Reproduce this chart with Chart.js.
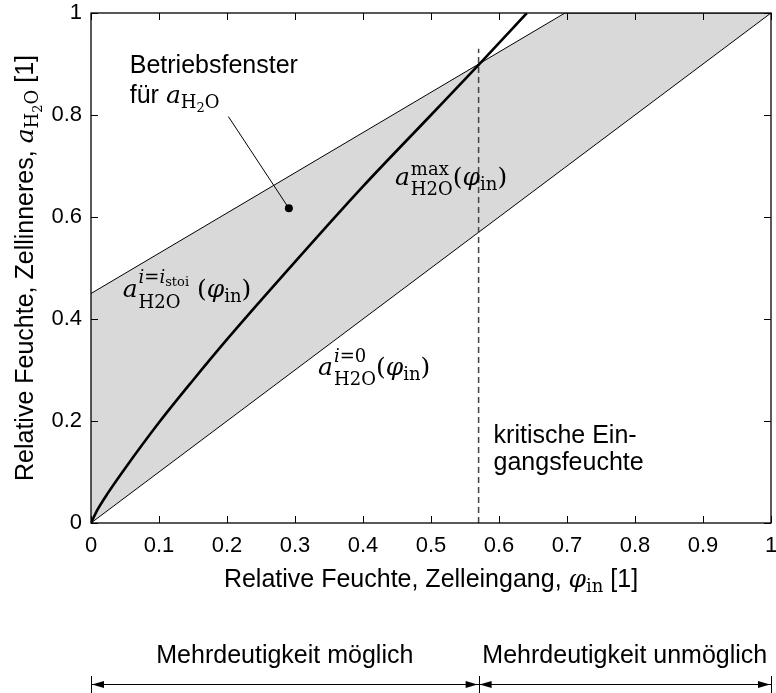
<!DOCTYPE html>
<html>
<head>
<meta charset="utf-8">
<script src="https://cdn.jsdelivr.net/npm/chart.js@4.4.0/dist/chart.umd.min.js"></script>
<style>
    html, body { margin: 0; padding: 0; background: #fff; }
    #wrap { width: 776px; height: 693px; }
</style>
</head>
<body>
<div id="wrap"><canvas id="chart" width="776" height="693"></canvas></div>
<script>
// Achsen
const xTicks = [0, 0.1, 0.2, 0.3, 0.4, 0.5, 0.6, 0.7, 0.8, 0.9, 1];
const xTickLabels = ['0', '0.1', '0.2', '0.3', '0.4', '0.5', '0.6', '0.7', '0.8', '0.9', '1'];
const yTicks = [0, 0.2, 0.4, 0.6, 0.8, 1];
const yTickLabels = ['0', '0.2', '0.4', '0.6', '0.8', '1'];

// a_H2O fuer i = 0 (Diagonale)
const phiZero = [0, 0.697, 1];
const aZero = [0, 0.697, 1];

// a_H2O fuer i = i_stoi, oben durch 1 begrenzt
const phiStoi = [0, 0.697, 1];
const aStoi = [0.45, 1, 1];

// a_H2O^max
const phiMax = [0, 0.01, 0.025, 0.05, 0.1, 0.15, 0.2, 0.3, 0.4, 0.5, 0.569, 0.641];
const aMax = [0, 0.027, 0.059, 0.107, 0.197, 0.28, 0.36, 0.512, 0.66, 0.8, 0.897, 1];

// kritische Eingangsfeuchte
const phiCrit = 0.57;
const critTop = 0.93;

// Punkt im Betriebsfenster
const dotPhi = 0.291;
const dotA = 0.617;

const SANS = '"Liberation Sans", Arial, sans-serif';
const SERIF = '"DejaVu Serif", "Liberation Serif", serif';
const sans = s => s + 'px ' + SANS;
const ser = s => s + 'px ' + SERIF;
const serIt = s => 'italic ' + s + 'px ' + SERIF;

const pts = (xs, ys) => xs.map((v, i) => ({ x: v, y: ys[i] }));

// Text mit Hoch-/Tiefstellung; gibt die End-x-Position zurueck
function run(ctx, x, y, parts, dry) {
    for (const p of parts) {
        if (p.sup || p.sub) {
            const x1 = run(ctx, x, y, p.sup || [], dry);
            const x2 = run(ctx, x, y, p.sub || [], dry);
            x = Math.max(x1, x2);
            continue;
        }
        ctx.font = p.f;
        if (!dry) ctx.fillText(p.t, x, y + (p.dy || 0));
        x += ctx.measureText(p.t).width + (p.sp || 0);
    }
    return x;
}

function runCentered(ctx, cx, y, parts) {
    const w = run(ctx, 0, 0, parts, true);
    run(ctx, cx - w / 2, y, parts, false);
}

const M = 25, S = 18, SS = 13, T = 25;

const phiIn = [
    { t: 'φ', f: serIt(M) },
    { t: 'in', f: ser(S), dy: 5 }
];

const lblZero = [
    { t: 'a', f: serIt(M), sp: 1 },
    { sup: [{ t: 'i', f: serIt(S), dy: -13 }, { t: '=', f: ser(S), dy: -13 }, { t: '0', f: ser(S), dy: -13 }],
      sub: [{ t: 'H2O', f: ser(S), dy: 10 }] },
    { t: '(', f: ser(M) }, ...phiIn, { t: ')', f: ser(M) }
];

const lblMax = [
    { t: 'a', f: serIt(M), sp: 1 },
    { sup: [{ t: 'max', f: ser(S), dy: -10 }],
      sub: [{ t: 'H2O', f: ser(S), dy: 10 }] },
    { t: '(', f: ser(M) }, ...phiIn, { t: ')', f: ser(M) }
];

const lblStoi = [
    { t: 'a', f: serIt(M), sp: 1 },
    { sup: [{ t: 'i', f: serIt(S), dy: -14 }, { t: '=', f: ser(S), dy: -14 }, { t: 'i', f: serIt(S), dy: -14 },
            { t: 'stoi', f: ser(SS), dy: -11 }],
      sub: [{ t: 'H2O', f: ser(S), dy: 11 }] },
    { t: ' (', f: ser(M) }, ...phiIn, { t: ')', f: ser(M) }
];

const aH2O = [
    { t: 'a', f: serIt(M) },
    { t: 'H', f: ser(S), dy: 5 },
    { t: '2', f: ser(SS), dy: 9 },
    { t: 'O', f: ser(S), dy: 5 }
];

const xTitle = [{ t: 'Relative Feuchte, Zelleingang, ', f: sans(T) }, ...phiIn, { t: ' [1]', f: sans(T) }];
const yTitle = [{ t: 'Relative Feuchte, Zellinneres, ', f: sans(T) }, ...aH2O, { t: ' [1]', f: sans(T) }];

function arrowHead(ctx, x, y, dir) {
    ctx.beginPath();
    ctx.moveTo(x, y);
    ctx.lineTo(x - dir * 12, y - 3.5);
    ctx.lineTo(x - dir * 12, y + 3.5);
    ctx.closePath();
    ctx.fill();
}

const decor = {
    id: 'decor',
    afterDatasetsDraw(chart) {
        const { ctx, chartArea: a, scales: { x, y } } = chart;
        ctx.save();
        ctx.fillStyle = '#000';
        ctx.strokeStyle = '#000';

        // Rahmen und Ticks nach innen
        ctx.lineWidth = 1.3;
        ctx.strokeRect(a.left, a.top, a.right - a.left, a.bottom - a.top);
        ctx.lineWidth = 1;
        ctx.beginPath();
        xTicks.forEach(v => {
            const px = Math.round(x.getPixelForValue(v)) + 0.5;
            ctx.moveTo(px, a.bottom); ctx.lineTo(px, a.bottom - 7);
            ctx.moveTo(px, a.top); ctx.lineTo(px, a.top + 7);
        });
        yTicks.forEach(v => {
            const py = Math.round(y.getPixelForValue(v)) + 0.5;
            ctx.moveTo(a.left, py); ctx.lineTo(a.left + 7, py);
            ctx.moveTo(a.right, py); ctx.lineTo(a.right - 7, py);
        });
        ctx.stroke();

        // Hinweislinie zum Betriebsfenster
        ctx.beginPath();
        ctx.moveTo(x.getPixelForValue(0.202), y.getPixelForValue(0.797));
        ctx.lineTo(x.getPixelForValue(dotPhi), y.getPixelForValue(dotA));
        ctx.stroke();

        ctx.textBaseline = 'alphabetic';
        ctx.textAlign = 'left';

        // Beschriftungen im Diagramm
        run(ctx, x.getPixelForValue(0.057), y.getPixelForValue(0.882), [{ t: 'Betriebsfenster', f: sans(T) }]);
        run(ctx, x.getPixelForValue(0.057), y.getPixelForValue(0.8235), [{ t: 'für ', f: sans(T) }, ...aH2O]);
        run(ctx, x.getPixelForValue(0.0466), y.getPixelForValue(0.444), lblStoi);
        run(ctx, x.getPixelForValue(0.447), y.getPixelForValue(0.663), lblMax);
        run(ctx, x.getPixelForValue(0.334), y.getPixelForValue(0.29), lblZero);
        run(ctx, x.getPixelForValue(0.592), y.getPixelForValue(0.156), [{ t: 'kritische Ein-', f: sans(T) }]);
        run(ctx, x.getPixelForValue(0.592), y.getPixelForValue(0.103), [{ t: 'gangsfeuchte', f: sans(T) }]);

        // Achsentitel
        const cx = (a.left + a.right) / 2;
        const cy = (a.top + a.bottom) / 2;
        runCentered(ctx, cx, 587, xTitle);
        ctx.save();
        ctx.translate(33, cy);
        ctx.rotate(-Math.PI / 2);
        runCentered(ctx, 0, 0, yTitle);
        ctx.restore();

        // Bereiche unterhalb der Achse
        const x0 = x.getPixelForValue(0);
        const xc = x.getPixelForValue(phiCrit);
        const x1 = x.getPixelForValue(1);
        const ay = 684.5;
        runCentered(ctx, (x0 + xc) / 2, 663, [{ t: 'Mehrdeutigkeit möglich', f: sans(T) }]);
        runCentered(ctx, (xc + x1) / 2, 663, [{ t: 'Mehrdeutigkeit unmöglich', f: sans(T) }]);
        ctx.lineWidth = 1;
        ctx.beginPath();
        [x0, xc, x1].forEach(px => {
            const p = Math.round(px) + 0.5;
            ctx.moveTo(p, 676); ctx.lineTo(p, 693);
        });
        ctx.moveTo(x0, ay); ctx.lineTo(x1, ay);
        ctx.stroke();
        arrowHead(ctx, x0 + 1, ay, -1);
        arrowHead(ctx, xc - 1, ay, 1);
        arrowHead(ctx, xc + 1, ay, -1);
        arrowHead(ctx, x1 - 1, ay, 1);

        ctx.restore();
    }
};

const tickFont = { family: SANS, size: 22 };

new Chart(document.getElementById('chart'), {
    type: 'scatter',
    data: {
        datasets: [
            { label: 'i = 0', data: pts(phiZero, aZero), showLine: true, borderColor: '#000', borderWidth: 1,
              pointRadius: 0, order: 3 },
            { label: 'i = i_stoi', data: pts(phiStoi, aStoi), showLine: true, borderColor: '#000', borderWidth: 1,
              pointRadius: 0, fill: 0, backgroundColor: '#d9d9d9', order: 2 },
            { label: 'max', data: pts(phiMax, aMax), showLine: true, borderColor: '#000', borderWidth: 2.6,
              pointRadius: 0, cubicInterpolationMode: 'monotone', order: 1 },
            { label: 'kritisch', data: [{ x: phiCrit, y: 0 }, { x: phiCrit, y: critTop }], showLine: true,
              borderColor: '#444', borderWidth: 1.5, borderDash: [6, 4], pointRadius: 0, order: 1 },
            { label: 'Punkt', data: [{ x: dotPhi, y: dotA }], pointRadius: 4, pointBackgroundColor: '#000',
              pointBorderWidth: 0, order: 0 }
        ]
    },
    options: {
        responsive: false,
        animation: false,
        layout: { padding: { top: 13, right: 5, left: 0, bottom: 125 } },
        plugins: {
            legend: { display: false },
            tooltip: { enabled: false },
            filler: { drawTime: 'beforeDatasetsDraw' }
        },
        scales: {
            x: {
                type: 'linear', min: 0, max: 1,
                grid: { display: false, drawTicks: false },
                border: { display: false },
                ticks: { font: tickFont, color: '#000', padding: 10, maxRotation: 0, autoSkip: false,
                         callback: (v, i) => xTickLabels[i] },
                afterBuildTicks: s => { s.ticks = xTicks.map(v => ({ value: v })); },
                afterFit: s => { s.height = 45; s.paddingLeft = 0; s.paddingRight = 0; }
            },
            y: {
                type: 'linear', min: 0, max: 1,
                grid: { display: false, drawTicks: false },
                border: { display: false },
                ticks: { font: tickFont, color: '#000', padding: 9, autoSkip: false,
                         callback: (v, i) => yTickLabels[i] },
                afterBuildTicks: s => { s.ticks = yTicks.map(v => ({ value: v })); },
                afterFit: s => { s.width = 91; s.paddingTop = 0; s.paddingBottom = 0; }
            }
        }
    },
    plugins: [decor]
});
</script>
</body>
</html>
